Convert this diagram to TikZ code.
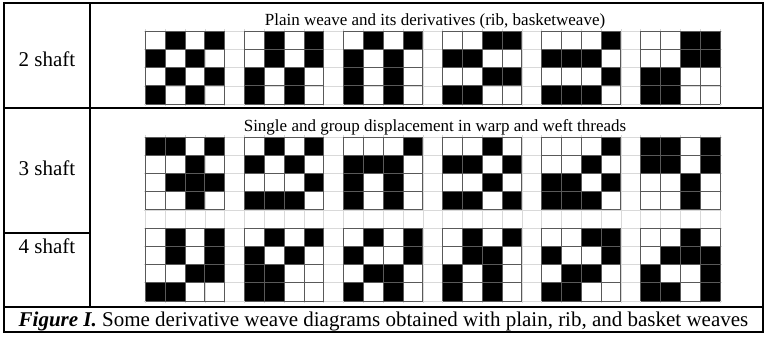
\documentclass[tikz,border=0pt]{standalone}
\usepackage{fontspec}
\setmainfont{Liberation Serif}
\def\cw{19.81}
\def\ch{18.22}
\newcommand\weavepat[3]{%
  \foreach \rw [count=\ii from 0] in {#3} {
    \foreach \vv [count=\jj from 0] in \rw {
      \ifnum\vv=1 \fill[black] ({#1+\jj*\cw},{#2+\ii*\ch}) rectangle ++(\cw,\ch);\fi
    }
  }
  \foreach \kk in {0,...,4} {
    \draw[patline] ({#1+\kk*\cw},#2) -- ++(0,{4*\ch});
    \draw[patline] (#1,{#2+\kk*\ch}) -- ++({4*\cw},0);
  }
}
\newcommand\lightgrid[4]{% x0 y0 ncols nrows
  \foreach \kk in {0,...,#3} {
    \draw[lightline] ({#1+\kk*\cw},{#2-2}) -- ++(0,{#4*\ch+4});
  }
  \foreach \kk in {0,...,#4} {
    \draw[lightline] ({#1-2},{#2+\kk*\ch}) -- ++({#3*\cw+4},0);
  }
}
\begin{document}
\begin{tikzpicture}[x=1pt,y=-1pt,
  tab/.style={line width=2pt, black},
  lbl/.style={font=\fontsize{21}{25}\selectfont, inner sep=0pt, anchor=base},
  ttl/.style={font=\fontsize{17}{20}\selectfont, inner sep=0pt, anchor=base},
  patline/.style={line width=0.9pt, black!65},
  lightline/.style={line width=0.6pt, black!15}]
\useasboundingbox (0,0) rectangle (768,343);
\fill[white] (0,0) rectangle (768,343);

% light background grids
\lightgrid{145.5}{31.2}{29}{4}
\lightgrid{145.5}{137}{29}{9}

% Row 1: 2 shaft
\weavepat{145.5}{31.2}{{0,1,0,1},{1,0,1,0},{0,1,0,1},{1,0,1,0}}
\weavepat{244.55}{31.2}{{0,1,0,1},{0,1,0,1},{1,0,1,0},{1,0,1,0}}
\weavepat{343.6}{31.2}{{0,1,0,1},{1,0,1,0},{1,0,1,0},{1,0,1,0}}
\weavepat{442.65}{31.2}{{0,0,1,1},{1,1,0,0},{0,0,1,1},{1,1,0,0}}
\weavepat{541.7}{31.2}{{0,0,0,1},{1,1,1,0},{0,0,0,1},{1,1,1,0}}
\weavepat{640.75}{31.2}{{0,0,1,1},{0,0,1,1},{1,1,0,0},{1,1,0,0}}

% Row 2: 3 shaft
\weavepat{145.5}{137}{{1,1,0,1},{0,0,1,0},{0,1,1,1},{0,0,1,0}}
\weavepat{244.55}{137}{{0,1,0,1},{1,0,1,0},{0,0,0,1},{1,1,1,0}}
\weavepat{343.6}{137}{{0,0,0,1},{1,1,1,0},{1,0,1,0},{1,0,1,0}}
\weavepat{442.65}{137}{{0,0,1,0},{1,1,0,1},{0,0,1,0},{1,1,0,1}}
\weavepat{541.7}{137}{{0,0,0,1},{0,0,1,0},{1,1,0,1},{1,1,1,0}}
\weavepat{640.75}{137}{{1,1,0,1},{1,1,0,1},{0,0,1,0},{0,0,1,0}}

% Row 3: 4 shaft
\weavepat{145.5}{228.1}{{0,1,0,1},{0,1,0,1},{0,0,1,1},{1,1,0,0}}
\weavepat{244.55}{228.1}{{0,1,0,1},{1,0,1,0},{1,1,0,0},{1,1,0,0}}
\weavepat{343.6}{228.1}{{0,1,0,1},{1,0,0,1},{0,1,1,0},{1,0,1,0}}
\weavepat{442.65}{228.1}{{0,1,0,1},{0,1,1,0},{1,0,1,0},{1,0,1,0}}
\weavepat{541.7}{228.1}{{0,0,1,1},{1,0,0,1},{0,1,1,0},{1,1,0,0}}
\weavepat{640.75}{228.1}{{0,0,1,0},{0,1,1,1},{1,0,0,1},{1,1,0,1}}

% table frame
\draw[tab] (4,3) rectangle (763,332);
\draw[tab] (90,3) -- (90,307);
\draw[tab] (4,108) -- (763,108);
\draw[tab] (4,307) -- (763,307);
\draw[tab] (4,233) -- (90,233);

% labels
\node[lbl] (s2) at (47,66) {2 shaft};
\node[lbl] (s3) at (47,175) {3 shaft};
\node[lbl] (s4) at (47,253) {4 shaft};
\node[ttl] (t1) at (435,25) {Plain weave and its derivatives (rib, basketweave)};
\node[ttl] (t2) at (435,131) {Single and group displacement in warp and weft threads};
\node[lbl] (cap) at (383.5,326) {\textbf{\textit{Figure I.}} Some derivative weave diagrams obtained with plain, rib, and basket weaves};
\end{tikzpicture}
\end{document}
